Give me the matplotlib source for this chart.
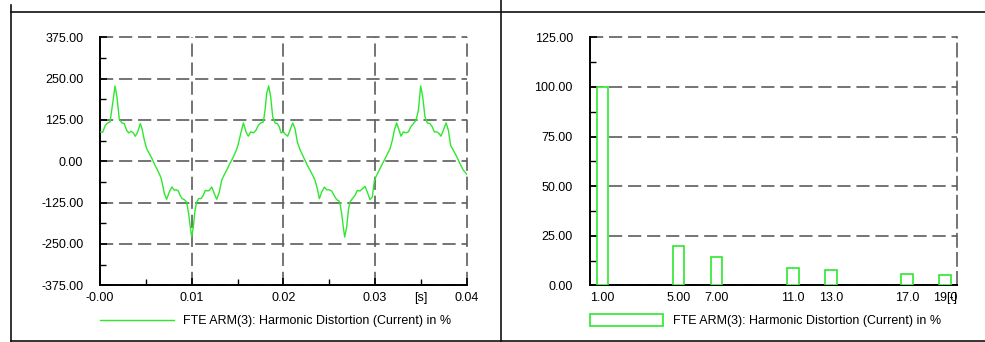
import matplotlib
matplotlib.use("Agg")
import matplotlib.pyplot as plt
from matplotlib.lines import Line2D
from matplotlib.ticker import MultipleLocator, FixedLocator, FixedFormatter
from matplotlib.transforms import offset_copy

plt.rcParams["font.family"] = ["Liberation Sans", "DejaVu Sans"]
plt.rcParams["lines.scale_dashes"] = False

# Time-domain arm current, in % of the fundamental
t_s = [
    0.00000, 0.00029, 0.00058, 0.00084, 0.00109, 0.00138, 0.00164, 0.00185,
    0.00211, 0.00240, 0.00265, 0.00291, 0.00313, 0.00338, 0.00364, 0.00385,
    0.00411, 0.00440, 0.00458, 0.00484, 0.00509, 0.00538, 0.00567, 0.00596,
    0.00629, 0.00665, 0.00684, 0.00702, 0.00727, 0.00756, 0.00785, 0.00811,
    0.00829, 0.00855, 0.00873, 0.00895, 0.00920, 0.00945, 0.00967, 0.00985,
    0.01000, 0.01018, 0.01036, 0.01055, 0.01076, 0.01102, 0.01127, 0.01149,
    0.01175, 0.01193, 0.01218, 0.01247, 0.01273, 0.01302,
    0.01327, 0.01353, 0.01382, 0.01411, 0.01436, 0.01462, 0.01491, 0.01509,
    0.01535, 0.01564, 0.01593, 0.01618, 0.01644, 0.01673, 0.01702, 0.01727,
    0.01753, 0.01782, 0.01800, 0.01818, 0.01840, 0.01862, 0.01884, 0.01909,
    0.01935, 0.01956, 0.01975, 0.02000, 0.02025, 0.02047, 0.02073, 0.02102,
    0.02127, 0.02153, 0.02182, 0.02211, 0.02236, 0.02262, 0.02291, 0.02320,
    0.02345, 0.02371, 0.02393, 0.02418, 0.02447, 0.02473, 0.02502, 0.02527,
    0.02553, 0.02582, 0.02607,
    0.02618, 0.02636, 0.02654, 0.02669, 0.02691, 0.02709, 0.02727, 0.02753,
    0.02782, 0.02807, 0.02836, 0.02862, 0.02891, 0.02916, 0.02945, 0.02971,
    0.02993, 0.03018, 0.03055, 0.03091, 0.03127, 0.03164, 0.03189, 0.03211,
    0.03236, 0.03262, 0.03284, 0.03309, 0.03335, 0.03364, 0.03389, 0.03418,
    0.03447, 0.03473, 0.03498, 0.03520, 0.03545, 0.03571, 0.03600, 0.03625,
    0.03647, 0.03673, 0.03698, 0.03720, 0.03745, 0.03775, 0.03800, 0.03825,
    0.03855, 0.03884, 0.03909, 0.03935, 0.03964, 0.04000,
]
i_pct = [
    88.7, 87.7, 108.9, 115.9, 118.9, 174.4, 227.8, 194.5,
    126.0, 115.9, 113.9, 93.7, 85.7, 90.7, 85.7, 75.6,
    88.7, 113.9, 98.8, 63.5, 38.3, 23.2, 8.1, -10.1,
    -27.2, -49.4, -72.6, -97.8, -114.9, -92.7, -77.6, -87.7,
    -85.7, -89.7, -102.8, -112.9, -115.9, -123.0, -158.3, -198.6,
    -228.8, -198.6, -148.2, -123.0, -112.9, -112.9, -102.8, -87.7,
    -89.7, -87.7, -77.6, -97.8, -114.9, -92.7,
    -57.5, -42.0, -27.0, -10.0, 3.0, 18.0, 36.0, 53.0,
    84.0, 116.0, 89.0, 76.0, 89.0, 86.0, 94.0, 109.0,
    116.0, 119.0, 154.0, 205.0, 228.0, 195.0, 134.0, 116.0,
    114.0, 104.0, 86.0, 89.0, 81.0, 76.0, 94.0, 116.0,
    99.0, 58.0, 35.0, 18.0, 3.0, -12.0, -27.0, -42.0,
    -57.0, -83.0, -113.0, -93.0, -78.0, -86.0, -86.0, -90.0,
    -103.0, -116.0, -120.0,
    -128.0, -158.0, -199.0, -229.0, -199.0, -148.0, -123.0, -113.0,
    -103.0, -88.0, -90.0, -83.0, -76.0, -93.0, -116.0, -108.0,
    -57.0, -42.0, -22.0, -2.0, 18.0, 38.0, 64.0, 94.0,
    116.0, 94.0, 76.0, 89.0, 86.0, 89.0, 104.0, 114.0,
    124.0, 154.0, 228.0, 195.0, 134.0, 116.0, 114.0, 104.0,
    89.0, 89.0, 84.0, 76.0, 94.0, 116.0, 94.0, 48.0,
    33.0, 18.0, 3.0, -12.0, -27.0, -39.0,
]

# Harmonic spectrum
harm_order = [1, 5, 7, 11, 13, 17, 19]
harm_pct = [100.0, 19.9, 14.1, 8.9, 7.7, 5.9, 5.0]
harm_tick_labels = ["1.00", "5.00", "7.00", "11.0", "13.0", "17.0", "19.0"]

time_ticks = [0.0, 0.01, 0.02, 0.03, 0.04]
time_tick_labels = ["-0.00", "0.01", "0.02", "0.03", "0.04"]
cur_ticks = [-375, -250, -125, 0, 125, 250, 375]
dist_ticks = [0, 25, 50, 75, 100, 125]

series_label = "FTE ARM(3): Harmonic Distortion (Current) in %"
time_unit, time_unit_at = "[s]", 0.035
order_unit = "[-]"

GREEN = "#2ee82e"
GRID_KW = dict(color="#5c5c5c", linewidth=1.2, linestyle=(0, (9.5, 4.2)))
FS = 9

W, H = 985, 342
fig = plt.figure(figsize=(W / 100, H / 100), dpi=100)
fig.patch.set_facecolor("white")


def px_axes(left, top, right, bottom):
    return fig.add_axes([left / W, 1 - bottom / H, (right - left) / W, (bottom - top) / H])


def base_style(ax):
    for s in ("top", "right"):
        ax.spines[s].set_visible(False)
    for s in ("left", "bottom"):
        ax.spines[s].set_linewidth(1.4)
        ax.spines[s].set_color("black")
    ax.tick_params(which="both", direction="in", colors="black", labelsize=FS)
    ax.tick_params(which="major", length=5, width=1.2)
    ax.tick_params(which="minor", length=4, width=1.0)
    ax.tick_params(axis="y", pad=12)
    ax.tick_params(axis="x", pad=5)
    ax.set_axisbelow(True)


ax1 = px_axes(100, 37.3, 466.7, 285.3)
ax2 = px_axes(589.5, 37.3, 957, 285.3)

# ---- time-domain waveform ----
base_style(ax1)
line, = ax1.plot(t_s, i_pct, color=GREEN, linewidth=1.0, zorder=3)
ax1.set_xlim(time_ticks[0], time_ticks[-1])
ax1.set_ylim(cur_ticks[0], cur_ticks[-1])
ax1.xaxis.set_major_locator(FixedLocator(time_ticks))
ax1.xaxis.set_major_formatter(FixedFormatter(time_tick_labels))
ax1.yaxis.set_major_locator(FixedLocator(cur_ticks))
ax1.yaxis.set_major_formatter(FixedFormatter(["%.2f" % v for v in cur_ticks]))
ax1.xaxis.set_minor_locator(MultipleLocator(0.005))
ax1.yaxis.set_minor_locator(MultipleLocator(62.5))
ax1.grid(True, which="major", **GRID_KW)
for gl in ax1.get_xgridlines() + ax1.get_ygridlines():
    gl.set_clip_on(False)
ax1.text(time_unit_at, 0, time_unit, fontsize=FS, ha="center", va="top",
         transform=offset_copy(ax1.get_xaxis_transform(), fig=fig, y=-5, units="points"))
ax1.legend(handles=[line], labels=[series_label], loc="center left",
           bbox_to_anchor=(0, -0.144), frameon=False, borderpad=0, borderaxespad=0,
           handlelength=5.9, handletextpad=0.75, fontsize=FS)

# ---- harmonic spectrum ----
base_style(ax2)
bars = ax2.bar(harm_order, harm_pct, width=0.6, facecolor="white", edgecolor=GREEN,
               linewidth=1.2, zorder=3)
ax2.set_xlim(0.32, 19.62)
ax2.set_ylim(dist_ticks[0], dist_ticks[-1])
ax2.xaxis.set_major_locator(FixedLocator(harm_order))
ax2.xaxis.set_major_formatter(FixedFormatter(harm_tick_labels))
ax2.yaxis.set_major_locator(FixedLocator(dist_ticks))
ax2.yaxis.set_major_formatter(FixedFormatter(["%.2f" % v for v in dist_ticks]))
ax2.yaxis.set_minor_locator(MultipleLocator(12.5))
ax2.tick_params(axis="x", which="both", length=0)
ax2.grid(True, axis="y", which="major", **GRID_KW)
for gl in ax2.get_ygridlines():
    gl.set_clip_on(False)
ax2.spines["right"].set_visible(True)
ax2.spines["right"].set_color(GRID_KW["color"])
ax2.spines["right"].set_linewidth(GRID_KW["linewidth"])
ax2.spines["right"].set_linestyle(GRID_KW["linestyle"])
ax2.text(1.0, 0, order_unit, fontsize=FS, ha="right", va="top",
         transform=offset_copy(ax2.transAxes, fig=fig, y=-5, units="points"))
ax2.legend(handles=[bars], labels=[series_label], loc="center left",
           bbox_to_anchor=(0, -0.142), frameon=False, borderpad=0, borderaxespad=0,
           handlelength=5.9, handleheight=1.05, handletextpad=0.75, fontsize=FS)

# ---- window frame ----
frame_kw = dict(color="#111111", linewidth=1.2)
fig.add_artist(Line2D([11 / W, 11 / W], [1 - 5 / H, 0], **frame_kw))
fig.add_artist(Line2D([11 / W, 1], [1 - 12 / H, 1 - 12 / H], **frame_kw))
fig.add_artist(Line2D([501 / W, 501 / W], [1, 0], **frame_kw))
fig.add_artist(Line2D([11 / W, 1], [1 - 341 / H, 1 - 341 / H], **frame_kw))

fig.savefig("out.png", dpi=100)
